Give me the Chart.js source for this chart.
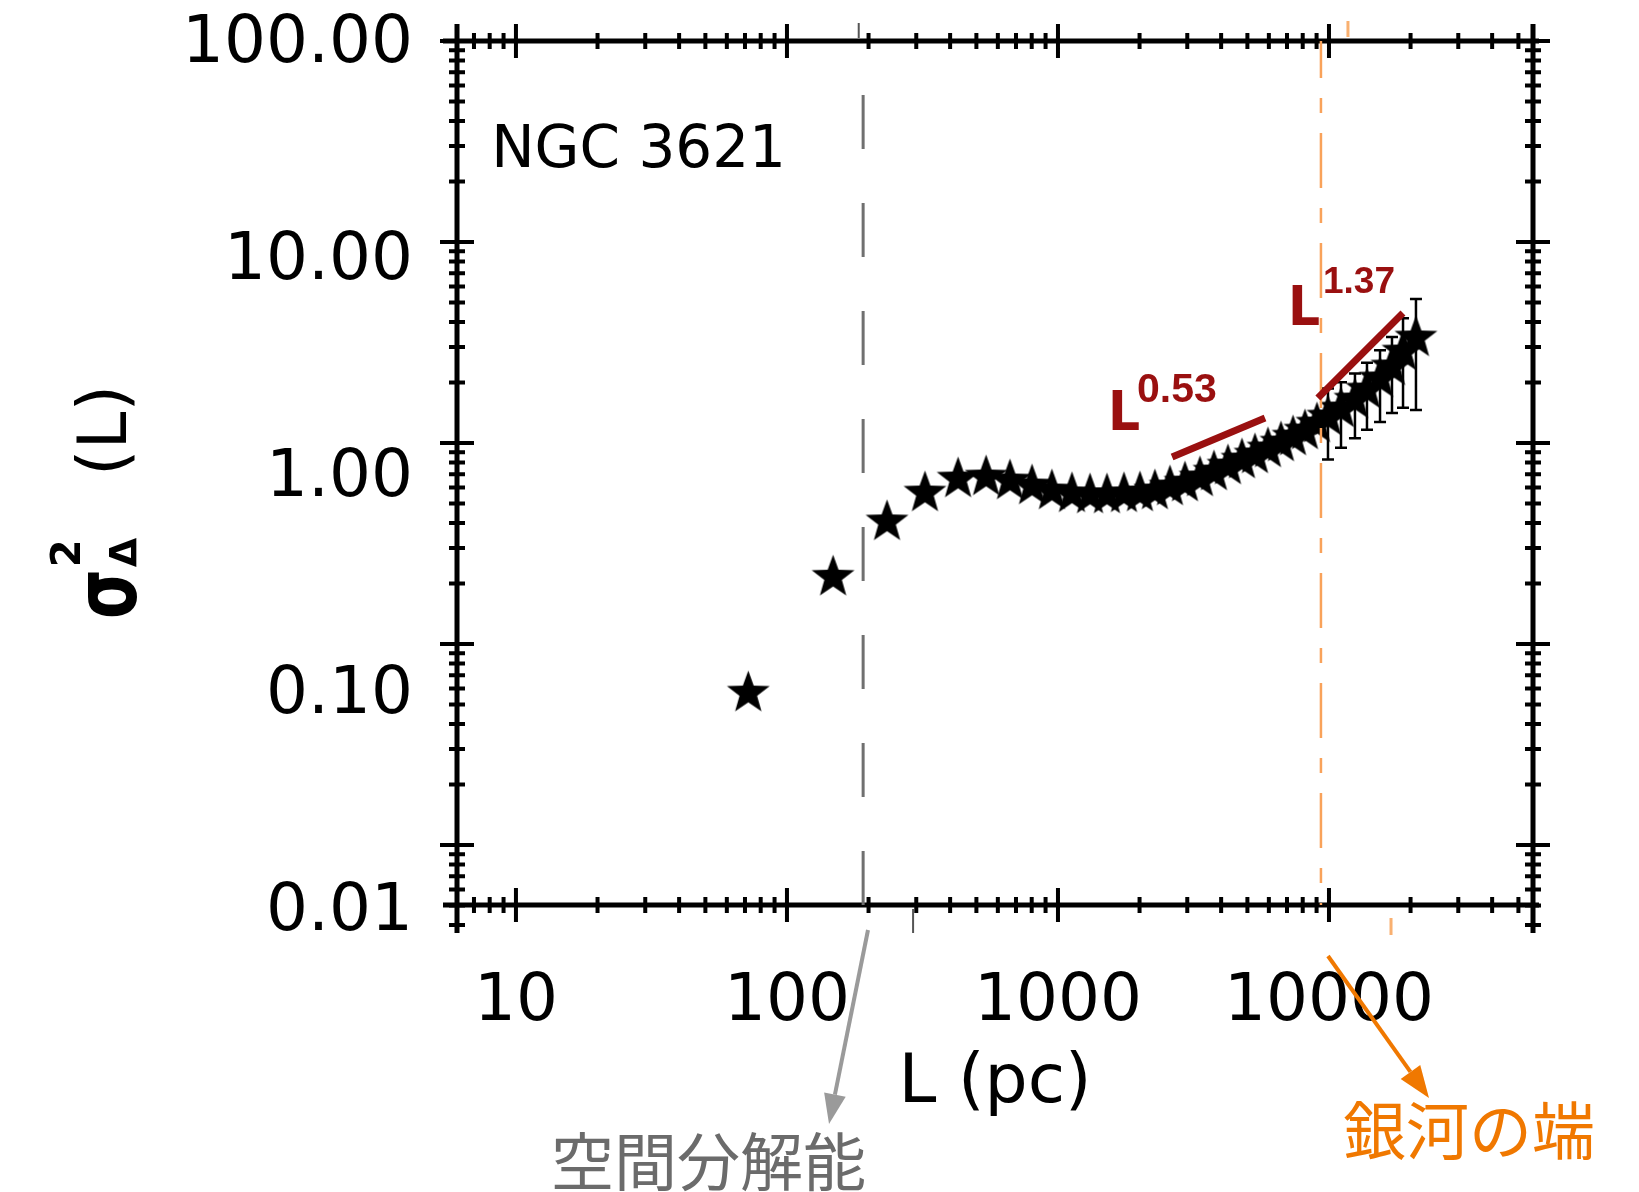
<!DOCTYPE html>
<html>
<head>
<meta charset="utf-8">
<script src="https://cdn.jsdelivr.net/npm/chart.js@4.4.1/dist/chart.umd.min.js"></script>
<style>
  html, body { margin: 0; padding: 0; background: #fff; }
  canvas { display: block; }
</style>
</head>
<body>
<canvas id="plot" width="1639" height="1192"></canvas>
<script>
// NGC 3621 - sigma_Delta^2(L) against scale L (pc)
var scaleL = [72, 148, 234, 323, 428, 543, 665, 802, 950, 1126, 1313, 1516, 1752, 2007, 2279,
    2590, 2942, 3342, 3763, 4240, 4775, 5333, 5955, 6651, 7367, 8155, 9031, 9916, 11075,
    12470, 13810, 15430, 17080, 18760, 20940];
var sigma2 = [0.057, 0.215, 0.405, 0.564, 0.662, 0.677, 0.647, 0.611, 0.577, 0.558, 0.551,
    0.551, 0.558, 0.564, 0.577, 0.604, 0.632, 0.670, 0.717, 0.768, 0.823, 0.872, 0.934, 1.000,
    1.071, 1.147, 1.243, 1.347, 1.476, 1.636, 1.835, 2.082, 2.389, 2.836, 3.330];
var sigma2Err = [0, 0, 0, 0, 0, 0, 0, 0, 0, 0, 0, 0, 0, 0, 0, 0, 0, 0, 0, 0, 0, 0, 0, 0, 0, 0, 0,
    0.52, 0.53, 0.58, 0.67, 0.81, 0.98, 1.34, 1.87];

// power-law guides drawn on the figure
var fitLowL = [2637, 5808];
var fitLowY = [0.851, 1.332];
var fitHighL = [9100, 18750];
var fitHighY = [1.675, 4.43];

var resolutionL = 191;   // spatial resolution (dashed grey)
var edgeL = 9340;        // galaxy edge (orange)

var xMin = 6.06, xMax = 56600;
var yMin = 0.00503, yMax = 100;

var xTickValues = [10, 100, 1000, 10000];
var xTickLabels = ['10', '100', '1000', '10000'];
var yTickValues = [100, 10, 1, 0.1, 0.01];
var yTickLabels = ['100.00', '10.00', '1.00', '0.10', '0.01'];

// the printed y labels drift off their tick marks in the source figure,
// so they get their own (log10) label axis with a slightly different span
var yLabelLogMin = -1.9631, yLabelLogMax = 2.0166;

var darkRed = '#9a1010';
var orange = '#f07800';

function makeStar(r) {
    var c = document.createElement('canvas');
    var s = Math.ceil(r * 2 + 4);
    c.width = s;
    c.height = s;
    var g = c.getContext('2d');
    g.translate(s / 2, s / 2);
    g.beginPath();
    for (var i = 0; i < 10; i++) {
        var rr = i % 2 ? r * 0.41 : r;
        var a = -Math.PI / 2 + i * Math.PI / 5;
        g.lineTo(rr * Math.cos(a), rr * Math.sin(a));
    }
    g.closePath();
    g.fillStyle = '#000';
    g.fill();
    return c;
}
var star = makeStar(22.5);

function pts(xs, ys) {
    return xs.map(function (x, i) { return { x: x, y: ys[i] }; });
}

// frame with IDL style ticks crossing the axis lines, on all four sides
var framePlugin = {
    id: 'frame',
    beforeDatasetsDraw: function (chart) {
        var ctx = chart.ctx, a = chart.chartArea;
        var xs = chart.scales.x, ys = chart.scales.y;
        ctx.save();
        ctx.strokeStyle = '#000';
        ctx.lineWidth = 5;
        ctx.beginPath();
        ctx.moveTo(a.left - 14, a.top); ctx.lineTo(a.right + 6, a.top);
        ctx.moveTo(a.left - 14, a.bottom); ctx.lineTo(a.right + 6, a.bottom);
        ctx.moveTo(a.left, a.top - 17); ctx.lineTo(a.left, a.bottom + 28);
        ctx.moveTo(a.right, a.top - 17); ctx.lineTo(a.right, a.bottom + 28);
        ctx.stroke();

        ctx.lineWidth = 4;
        ctx.beginPath();
        for (var e = -3; e <= 4; e++) {
            for (var m = 1; m <= 9; m++) {
                var v = m * Math.pow(10, e);
                var len = m === 1 ? 17 : 8;
                var px = xs.getPixelForValue(v);
                if (px > a.left + 1 && px < a.right) {
                    ctx.moveTo(px, a.bottom - len); ctx.lineTo(px, a.bottom + len);
                    ctx.moveTo(px, a.top - len); ctx.lineTo(px, a.top + len);
                }
                var py = ys.getPixelForValue(v);
                if (py > a.top - 2 && py < a.bottom + 28) {
                    ctx.moveTo(a.left - len, py); ctx.lineTo(a.left + len, py);
                    ctx.moveTo(a.right - len, py); ctx.lineTo(a.right + len, py);
                }
            }
        }
        ctx.stroke();

        // error bars
        ctx.lineWidth = 2.5;
        ctx.beginPath();
        for (var i = 0; i < scaleL.length; i++) {
            if (!sigma2Err[i]) continue;
            var x = xs.getPixelForValue(scaleL[i]);
            var y1 = ys.getPixelForValue(sigma2[i] - sigma2Err[i]);
            var y2 = ys.getPixelForValue(sigma2[i] + sigma2Err[i]);
            ctx.moveTo(x, y1); ctx.lineTo(x, y2);
            ctx.moveTo(x - 6, y1); ctx.lineTo(x + 6, y1);
            ctx.moveTo(x - 6, y2); ctx.lineTo(x + 6, y2);
        }
        ctx.stroke();
        ctx.restore();
    }
};

function arrow(ctx, x1, y1, x2, y2, color, w, head, half) {
    var ang = Math.atan2(y2 - y1, x2 - x1);
    var bx = x2 - head * Math.cos(ang), by = y2 - head * Math.sin(ang);
    ctx.strokeStyle = color;
    ctx.fillStyle = color;
    ctx.lineWidth = w;
    ctx.beginPath();
    ctx.moveTo(x1, y1);
    ctx.lineTo(bx, by);
    ctx.stroke();
    ctx.beginPath();
    ctx.moveTo(x2, y2);
    ctx.lineTo(bx + half * Math.sin(ang), by - half * Math.cos(ang));
    ctx.lineTo(bx - half * Math.sin(ang), by + half * Math.cos(ang));
    ctx.closePath();
    ctx.fill();
}

var notesPlugin = {
    id: 'notes',
    afterDraw: function (chart) {
        var ctx = chart.ctx, a = chart.chartArea;
        var xs = chart.scales.x, ys = chart.scales.y;
        function X(v) { return xs.getPixelForValue(v); }
        function Y(v) { return ys.getPixelForValue(v); }
        ctx.save();
        ctx.textAlign = 'left';
        ctx.textBaseline = 'alphabetic';

        ctx.fillStyle = '#000';
        ctx.font = '58px "DejaVu Sans"';
        ctx.fillText('NGC 3621', X(8.1), Y(23.6));

        ctx.fillStyle = darkRed;
        ctx.font = 'bold 56px "DejaVu Sans Condensed", "Liberation Sans"';
        ctx.fillText('L', X(1530), Y(1.161));
        ctx.fillText('L', X(7063), Y(3.86));
        ctx.font = 'bold 41px "Liberation Sans"';
        ctx.fillText('0.53', X(1957), Y(1.60));
        ctx.font = 'bold 37px "Liberation Sans"';
        ctx.fillText('1.37', X(9506), Y(5.57));

        // y title: sigma^2_Delta (L), rotated
        ctx.save();
        ctx.translate(136, 619);
        ctx.rotate(-Math.PI / 2);
        ctx.fillStyle = '#000';
        ctx.font = 'bold 64px "DejaVu Sans"';
        var w = ctx.measureText('σ').width;
        ctx.save();
        ctx.scale(1, 1.35);
        ctx.fillText('σ', 0, 0);
        ctx.restore();
        ctx.font = 'bold 40px "DejaVu Sans"';
        ctx.fillText('2', w + 2, -56);
        ctx.font = 'bold 38px "DejaVu Sans"';
        ctx.fillText('Δ', w + 2, 0);
        ctx.font = '68px "DejaVu Sans"';
        ctx.fillText('(L)', 143, -10);
        ctx.restore();

        // stray marks of the two vertical lines just outside the frame
        ctx.lineWidth = 2;
        ctx.strokeStyle = '#555';
        ctx.beginPath();
        ctx.moveTo(X(184), a.top - 18); ctx.lineTo(X(184), a.top - 3);
        ctx.moveTo(X(292), a.bottom + 4); ctx.lineTo(X(292), a.bottom + 28);
        ctx.stroke();
        ctx.lineWidth = 3;
        ctx.strokeStyle = '#f9b070';
        ctx.beginPath();
        ctx.moveTo(X(11750), a.top - 20); ctx.lineTo(X(11750), a.top - 4);
        ctx.moveTo(X(16940), a.bottom + 13); ctx.lineTo(X(16940), a.bottom + 30);
        ctx.stroke();

        // Japanese call-outs below the plot
        arrow(ctx, 868, 930, 829, 1124, '#9a9a9a', 4, 30, 11);
        arrow(ctx, 1328, 956, 1429, 1098, orange, 4, 32, 12);
        ctx.textBaseline = 'top';
        ctx.font = '63px "Noto Sans CJK JP"';
        ctx.fillStyle = '#6b6b6b';
        ctx.fillText('空間分解能', 551, 1130);
        ctx.fillStyle = orange;
        ctx.fillText('銀河の端', 1343, 1099);
        ctx.restore();
    }
};

new Chart(document.getElementById('plot'), {
    type: 'scatter',
    data: {
        datasets: [{
            label: 'L^0.53',
            data: pts(fitLowL, fitLowY),
            showLine: true,
            borderColor: darkRed,
            borderWidth: 7,
            pointRadius: 0,
            order: 0,
            xAxisID: 'x', yAxisID: 'y'
        }, {
            label: 'L^1.37',
            data: pts(fitHighL, fitHighY),
            showLine: true,
            borderColor: darkRed,
            borderWidth: 7,
            pointRadius: 0,
            order: 0,
            xAxisID: 'x', yAxisID: 'y'
        }, {
            label: 'galaxy edge',
            data: pts([edgeL, edgeL], [yMax, yMin]),
            showLine: true,
            borderColor: '#f9a25a',
            borderWidth: 2.5,
            borderDash: [55, 20, 15, 20],
            borderDashOffset: 18,
            pointRadius: 0,
            order: 1,
            xAxisID: 'x', yAxisID: 'y'
        }, {
            label: 'resolution',
            data: pts([resolutionL, resolutionL], [yMin, yMax]),
            showLine: true,
            borderColor: '#707070',
            borderWidth: 3,
            borderDash: [54, 54],
            pointRadius: 0,
            order: 1,
            xAxisID: 'x', yAxisID: 'y'
        }, {
            label: 'NGC 3621',
            data: pts(scaleL, sigma2),
            pointStyle: star,
            pointRadius: 22,
            order: 2,
            xAxisID: 'x', yAxisID: 'y'
        }]
    },
    options: {
        responsive: false,
        animation: false,
        devicePixelRatio: 1,
        layout: { padding: { left: 0, right: 106, top: 41, bottom: 67 } },
        plugins: { legend: { display: false }, tooltip: { enabled: false } },
        scales: {
            x: {
                type: 'logarithmic',
                position: 'bottom',
                min: xMin,
                max: xMax,
                afterBuildTicks: function (s) {
                    s.ticks = xTickValues.map(function (v) { return { value: v, major: true }; });
                },
                afterFit: function (s) {
                    s.height = 220;
                    s.paddingLeft = 0;
                    s.paddingRight = 0;
                },
                grid: { display: false, drawTicks: false },
                border: { display: false },
                ticks: {
                    autoSkip: false,
                    maxRotation: 0,
                    padding: 58,
                    color: '#000',
                    font: { family: '"DejaVu Sans"', size: 66 },
                    callback: function (v, i) { return xTickLabels[i]; }
                },
                title: {
                    display: true,
                    text: 'L (pc)',
                    color: '#000',
                    padding: 0,
                    font: { family: '"DejaVu Sans"', size: 68 }
                }
            },
            y: {
                type: 'logarithmic',
                min: yMin,
                max: yMax,
                display: false
            },
            yl: {
                type: 'linear',
                axis: 'y',
                position: 'left',
                min: yLabelLogMin,
                max: yLabelLogMax,
                afterBuildTicks: function (s) {
                    s.ticks = yTickValues.map(function (v) { return { value: Math.log10(v) }; });
                },
                afterFit: function (s) {
                    s.width = 457;
                    s.paddingTop = 0;
                    s.paddingBottom = 0;
                },
                grid: { display: false, drawTicks: false },
                border: { display: false },
                ticks: {
                    autoSkip: false,
                    padding: 44,
                    color: '#000',
                    font: { family: '"DejaVu Sans"', size: 66 },
                    callback: function (v, i) { return yTickLabels[i]; }
                }
            }
        }
    },
    plugins: [framePlugin, notesPlugin]
});
</script>
</body>
</html>
